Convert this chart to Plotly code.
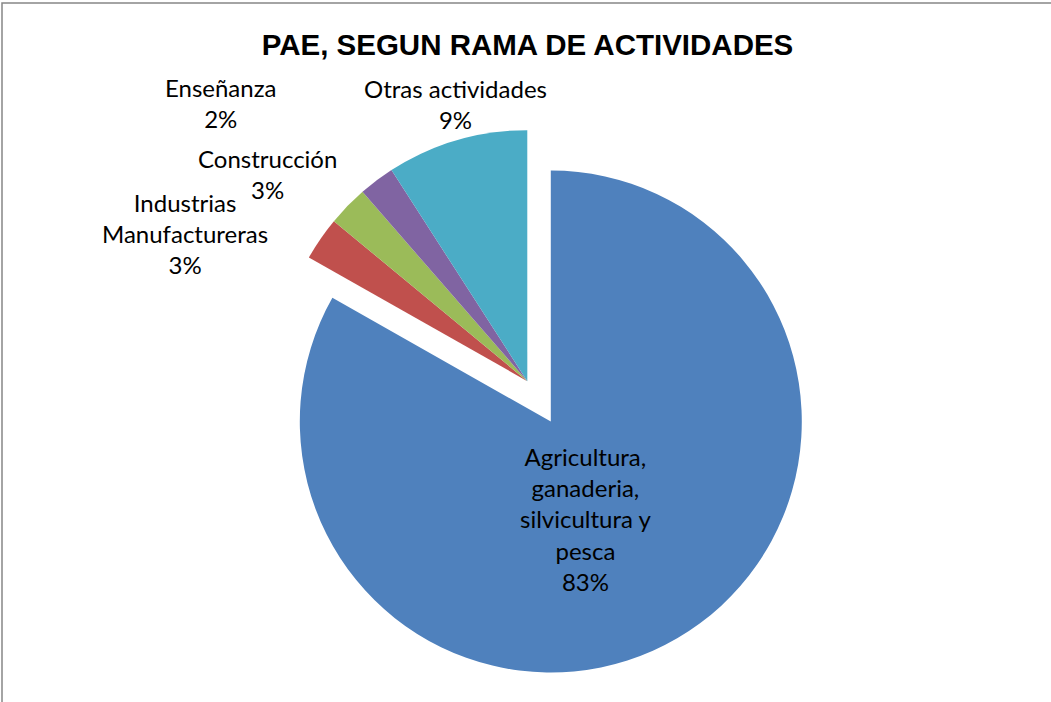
import plotly.graph_objects as go

W, H = 1051, 702

# Data
labels = [
    "Agricultura, ganaderia, silvicultura y pesca",
    "Industrias Manufactureras",
    "Construcción",
    "Enseñanza",
    "Otras actividades",
]
values = [83.2, 2.8, 2.6, 2.3, 9.1]
pct_text = ["83%", "3%", "3%", "2%", "9%"]

COLORS = ["#4F81BD", "#C0504D", "#9BBB59", "#8064A2", "#4BACC6"]

LABEL_FONT = dict(family="Lato, Carlito, sans-serif", size=24, color="black")


def px(x, y):
    """pixel position -> paper coords (margins are zero)"""
    return x / W, 1 - y / H


fig = go.Figure()

fig.add_trace(go.Pie(
    labels=labels,
    values=values,
    sort=False,
    direction="clockwise",
    rotation=0,
    pull=[0.186, 0, 0, 0, 0],
    marker=dict(colors=COLORS, line=dict(width=0)),
    textinfo="none",
    hoverinfo="label+percent",
    showlegend=False,
    domain=dict(x=[0.02, 0.9834], y=[0.033, 0.8811]),
))

# data labels, placed like the original
label_pos = [
    (585, 519, "Agricultura,<br>ganaderia,<br>silvicultura y<br>pesca<br>" + pct_text[0]),
    (185, 234, "Industrias<br>Manufactureras<br>" + pct_text[1]),
    (267, 174, "Construcción<br>" + pct_text[2]),
    (220, 103, "Enseñanza<br>" + pct_text[3]),
    (455, 104, "Otras actividades<br>" + pct_text[4]),
]
for x, y, txt in label_pos:
    ax, ay = px(x, y)
    fig.add_annotation(
        x=ax, y=ay, xref="paper", yref="paper",
        text=txt, showarrow=False,
        xanchor="center", yanchor="middle", align="center",
        font=LABEL_FONT,
    )

# chart border (only top/left visible in the crop)
fig.add_shape(
    type="rect", xref="paper", yref="paper",
    x0=2 / W, x1=1.01, y0=-0.01, y1=1 - 3 / H,
    line=dict(color="#868686", width=1.5),
)

fig.update_layout(
    width=W, height=H,
    title=dict(
        text="<b>PAE, SEGUN RAMA DE ACTIVIDADES</b>",
        x=527.5 / W, xanchor="center",
        y=1 - 45 / H, yanchor="middle",
        font=dict(family="Liberation Sans, Arial, sans-serif", size=29.5, color="black"),
    ),
    margin=dict(l=0, r=0, t=0, b=0),
    paper_bgcolor="white",
    plot_bgcolor="white",
)

fig.write_html(
    "out.html",
    config={"displayModeBar": False},
    post_script="document.body.style.margin='0px';document.body.style.overflow='hidden';",
)
